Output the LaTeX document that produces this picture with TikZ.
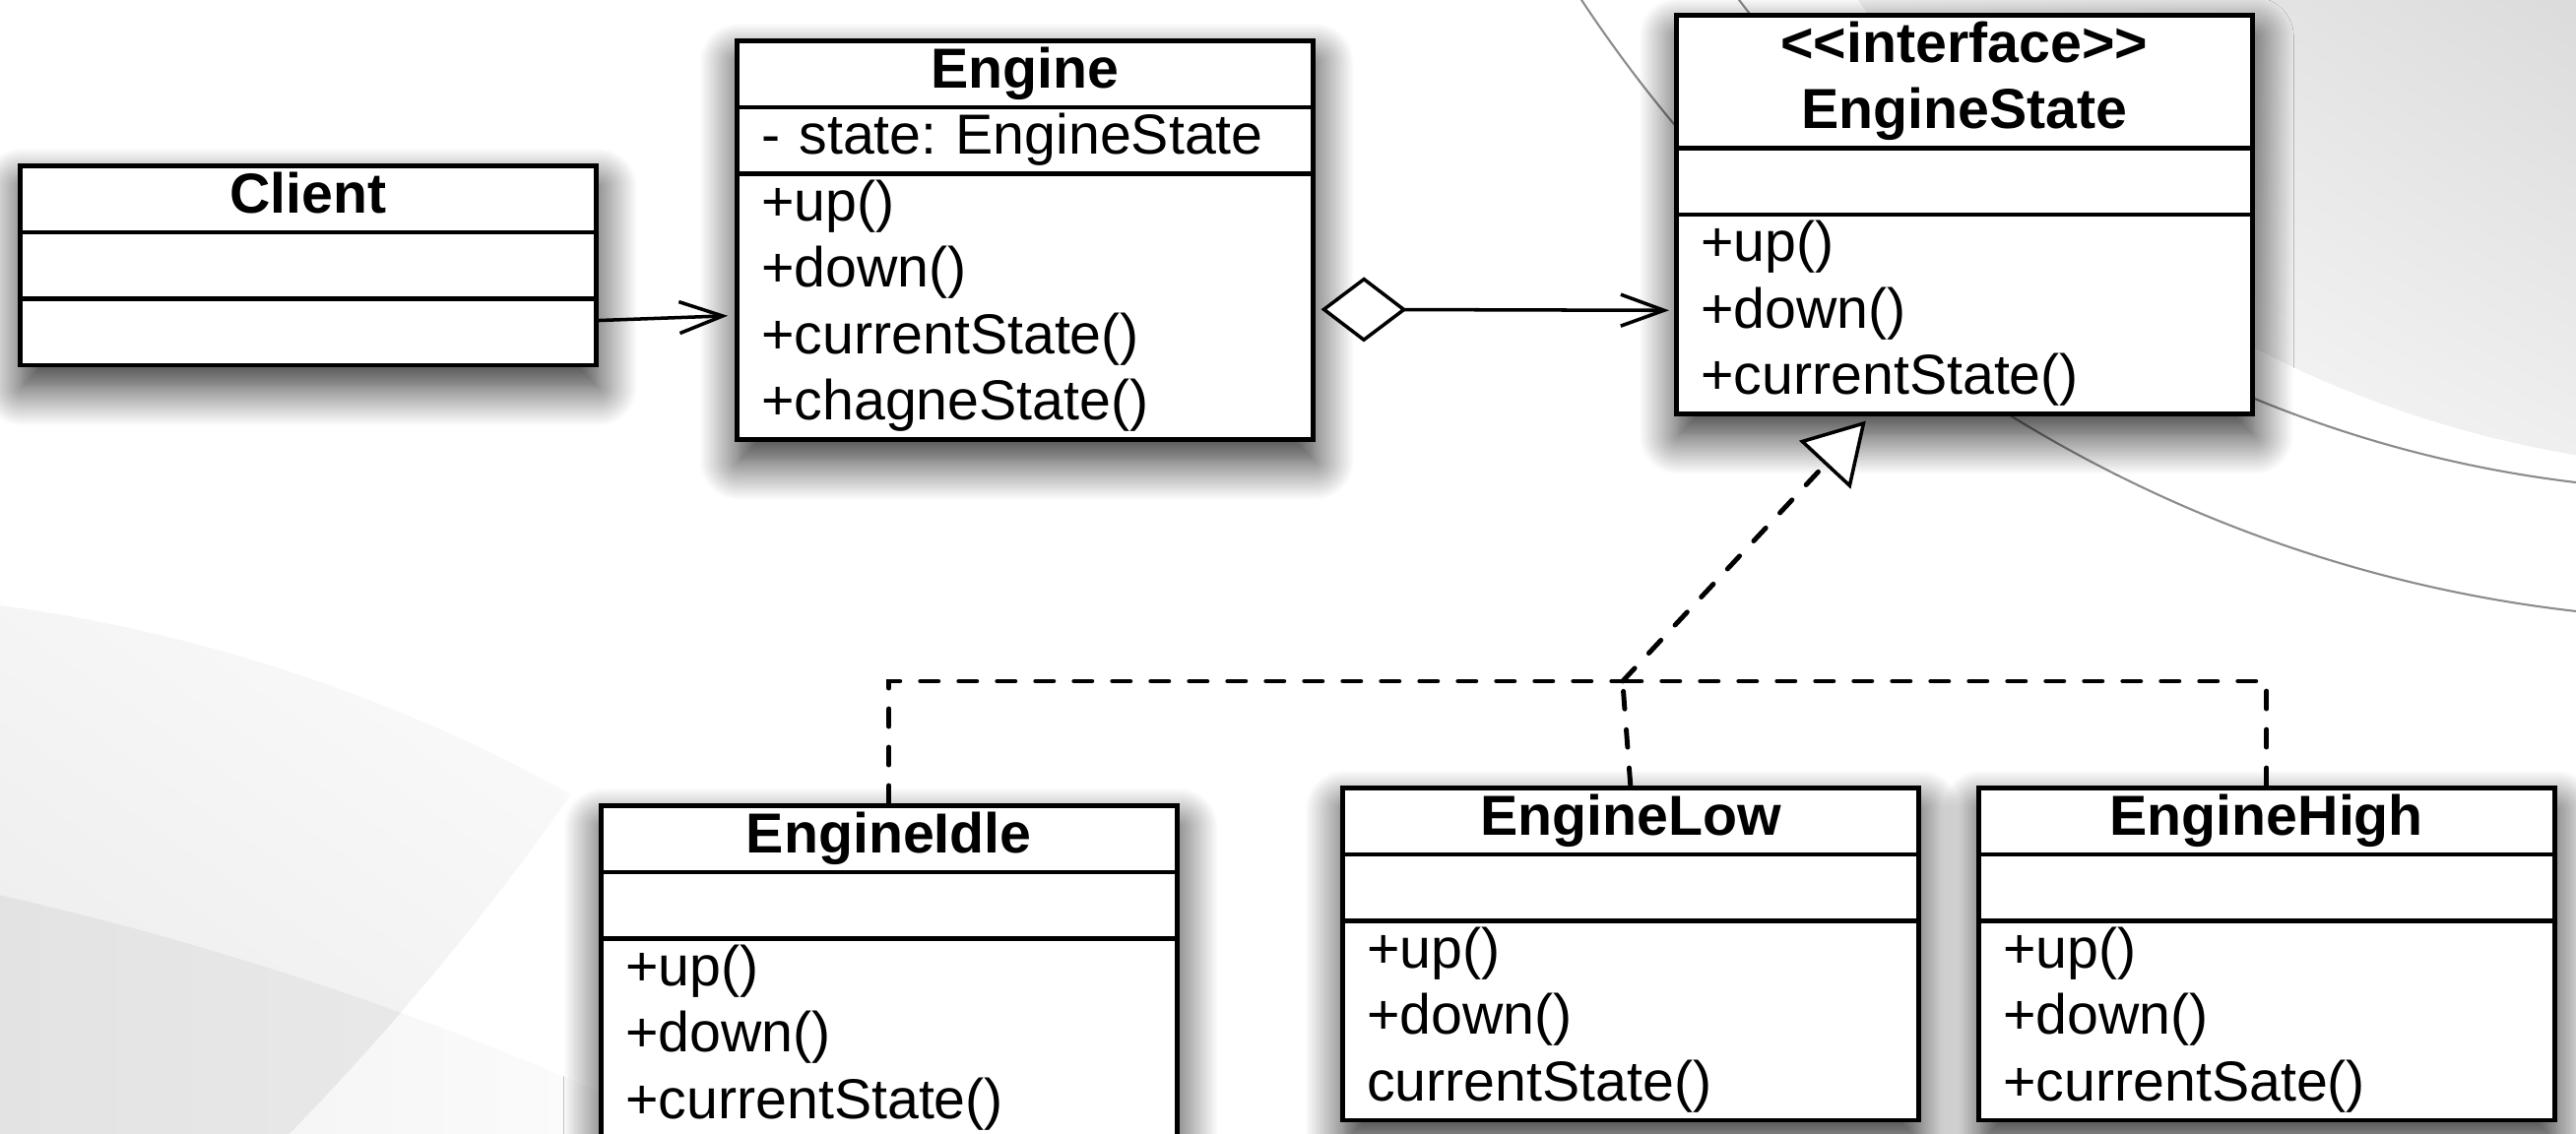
\documentclass[tikz,border=0pt]{standalone}
\usepackage{fontspec}
\setmainfont{Liberation Sans}[Ligatures=TeXOff]
\usetikzlibrary{shapes.multipart,arrows.meta,shadows.blur,shadings}
\setlength{\parindent}{0pt}
\frenchspacing
\newcommand{\rw}{\rule[-0.175cm]{0pt}{0.675cm}}
\newcommand{\rf}{\rule[-0.175cm]{0pt}{\dimexpr0.675cm-1.3pt\relax}}
\newcommand{\ctitle}[1]{\makebox[5.35cm]{\bfseries #1}}

\begin{document}
\begin{tikzpicture}[
    cls/.style={rectangle split, rectangle split parts=3, draw, line width=1.3pt, fill=white,
        text width=5.35cm, inner xsep=0.25cm, inner ysep=0pt, align=left,
        font=\fontsize{16.3pt}{0.675cm}\selectfont,
        blur shadow={shadow xshift=0.02cm, shadow yshift=-0.22cm, shadow blur radius=0.4cm,
            shadow opacity=85, shadow blur steps=24}},
    assoc/.style={line width=1pt, -{Straight Barb[length=0.44cm, width=0.32cm]}},
    aggr/.style={line width=1pt, {Diamond[fill=white, length=0.87cm, width=0.66cm]}-{Straight Barb[length=0.44cm, width=0.32cm]}},
    impl/.style={line width=1.4pt, line cap=round, dash pattern=on 0.18cm off 0.21cm},
    bgline/.style={black!45, line width=0.6pt}
]
    \useasboundingbox (0,0) rectangle (26.16,-11.51);

    \begin{scope}
        \clip (0,0) rectangle (26.16,-11.51);
        % upper right swoosh
        \begin{scope}
            \clip (27.994,6.335) circle (11.108);
            \shade[upper left=black!6, upper right=black!14, lower left=white, lower right=black!6]
                (18.5,0) rectangle (26.16,-4.8);
        \end{scope}
        \draw[bgline] (27.665,7.53) circle (12.52);
        \draw[bgline] (27.764,7.716) circle (14.016);
        % lower left swoosh
        \begin{scope}
            \clip (-7.725,-42.91) circle (34.68);
            \shade[left color=black!4, right color=white] (2.5,-9.5) rectangle (8,-11.51);
        \end{scope}
        \begin{scope}
            \clip (-2.236,-22.62) circle (16.62);
            \clip (-16.704,7.674) circle (27.46);
            \shade[upper left=black!4, lower left=black!8, upper right=black!1, lower right=black!5]
                (0,-6.1) rectangle (5.85,-11.51);
            \clip (-7.725,-42.91) circle (34.68);
            \shade[left color=black!11, right color=black!8] (0,-9) rectangle (5.85,-11.51);
        \end{scope}
    \end{scope}

    \node[cls, anchor=north west] (client) at (0.18,-1.66) {\rf\ctitle{Client}
        \nodepart{two}\rf
        \nodepart{three}\rf};
    \node[cls, anchor=north west] (engine) at (7.46,-0.39) {\rf\ctitle{Engine}
        \nodepart{two}\rf - state: EngineState
        \nodepart{three}\rf +up()\\\rw +down()\\\rw +currentState()\\\rw +chagneState()};
    \node[cls, anchor=north west] (es) at (17.00,-0.13) {\rf\ctitle{<<interface>>}\\\rw\ctitle{EngineState}
        \nodepart{two}\rf
        \nodepart{three}\rf +up()\\\rw +down()\\\rw +currentState()};
    \node[cls, anchor=north west] (idle) at (6.08,-8.16) {\rf\ctitle{EngineIdle}
        \nodepart{two}\rf
        \nodepart{three}\rf +up()\\\rw +down()\\\rw +currentState()};
    \node[cls, anchor=north west] (low) at (13.61,-7.98) {\rf\ctitle{EngineLow}
        \nodepart{two}\rf
        \nodepart{three}\rf +up()\\\rw +down()\\\rw currentState()};
    \node[cls, anchor=north west] (high) at (20.07,-7.98) {\rf\ctitle{EngineHigh}
        \nodepart{two}\rf
        \nodepart{three}\rf +up()\\\rw +down()\\\rw +currentSate()};

    \coordinate (jn) at ([xshift=-0.08cm, yshift=1.06cm]low.north);
    \coordinate (tip) at ([xshift=-1cm, yshift=-0.05cm]es.south);

    \draw[assoc] ([yshift=-0.56cm]client.east) -- ([xshift=-0.07cm, yshift=-0.77cm]engine.west);
    \draw[aggr] ([xshift=0.06cm, yshift=-0.705cm]engine.east) -- ([xshift=-0.05cm, yshift=-0.975cm]es.west);
    \draw[impl] (idle.north) |- (jn);
    \draw[impl] (low.north) -- (jn);
    \draw[impl] (high.north) |- (jn);
    \draw[impl, -{Triangle[fill=white, length=0.61cm, width=0.71cm, line width=1pt]}] (jn) -- (tip);
\end{tikzpicture}
\end{document}
